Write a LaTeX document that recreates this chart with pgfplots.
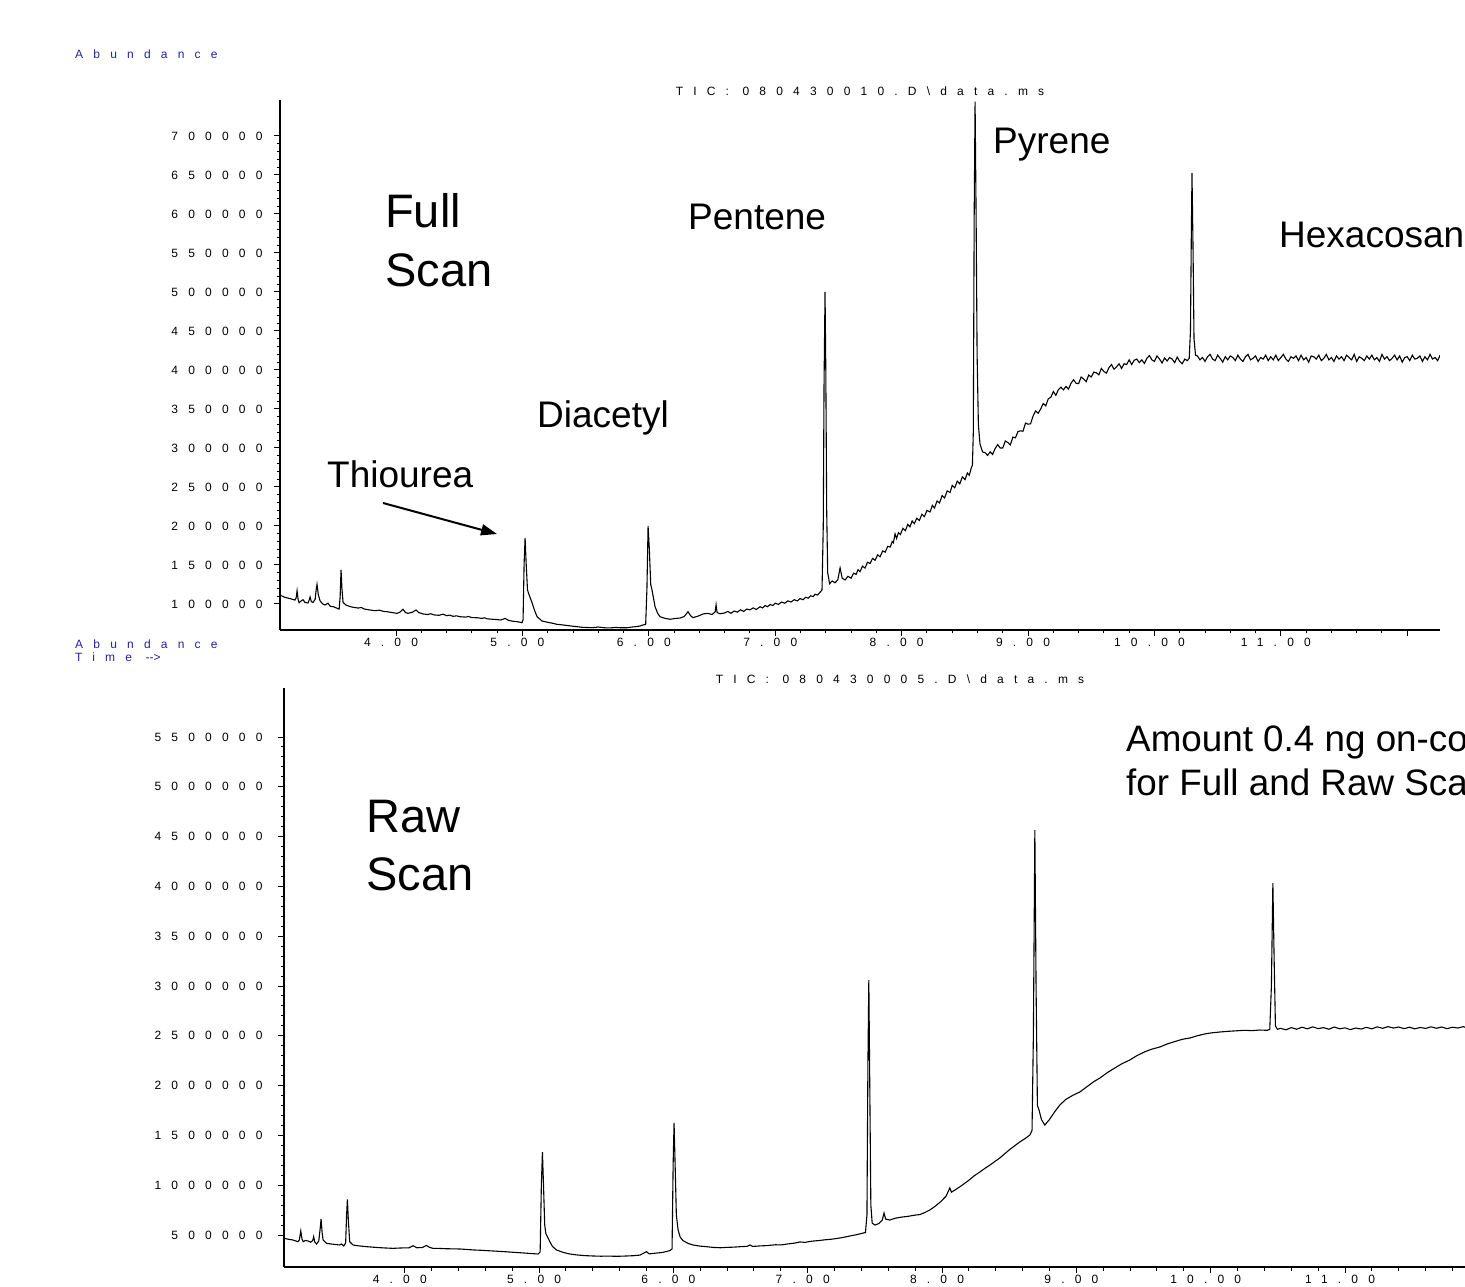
\documentclass[border=0pt]{standalone}
\usepackage{pgfplots}
\pgfplotsset{compat=1.18}
\usepackage{fontspec}
\setmainfont{Liberation Sans}
\newfontfamily\spacedfont[LetterSpace=85]{Liberation Sans}
\usetikzlibrary{arrows.meta}
\definecolor{hpblue}{RGB}{35,35,155}
\newcommand{\tickfont}{\spacedfont\fontsize{12}{14}\selectfont}
\newcommand{\bigfont}{\fontsize{47}{56}\selectfont}
\newcommand{\midfont}{\fontsize{37}{44}\selectfont}
\newcommand{\amtfont}{\fontsize{36.8}{44}\selectfont}

\pgfplotstableread{
t v
3.082 111500
3.120 108500
3.160 107000
3.200 105000
3.210 108000
3.217 117000
3.225 106000
3.233 101700
3.250 104000
3.264 105500
3.280 102000
3.304 101300
3.315 106000
3.320 109000
3.330 103000
3.343 102000
3.360 106000
3.368 118000
3.375 125200
3.385 112000
3.399 104000
3.420 100000
3.438 98700
3.462 101000
3.480 97000
3.502 96600
3.520 95500
3.541 94000
3.550 93500
3.558 110000
3.565 143600
3.572 120000
3.581 102000
3.604 98700
3.630 97000
3.660 95800
3.700 94800
3.725 95500
3.750 93500
3.794 92300
3.830 91500
3.870 92000
3.900 90500
3.929 90100
3.970 89000
4.008 88000
4.030 89500
4.055 93200
4.075 89000
4.095 88000
4.130 89500
4.158 92300
4.180 89000
4.214 87200
4.250 86500
4.275 87500
4.300 86000
4.340 85500
4.372 87000
4.400 85000
4.425 85800
4.450 84200
4.480 84800
4.506 83700
4.550 83200
4.575 84000
4.600 82500
4.641 82400
4.680 81500
4.700 82300
4.720 81000
4.767 80400
4.800 80000
4.830 79500
4.862 81500
4.890 79000
4.920 78000
4.957 77300
4.985 76500
4.997 76000
5.005 80000
5.013 150000
5.021 184600
5.030 150000
5.040 118000
5.050 113000
5.076 101700
5.100 90000
5.116 83700
5.155 78200
5.200 76500
5.242 75200
5.270 74000
5.300 73500
5.350 72500
5.400 71500
5.432 70900
5.480 70000
5.530 69800
5.559 69600
5.600 70500
5.650 69500
5.693 69300
5.740 70000
5.780 69500
5.828 69600
5.870 70500
5.900 71000
5.930 71800
5.954 73100
5.975 74000
5.985 120000
5.994 200000
6.004 170000
6.015 125000
6.025 118000
6.049 96600
6.070 88000
6.089 83700
6.130 81500
6.168 80400
6.210 81500
6.247 82000
6.280 84000
6.310 90100
6.330 85000
6.350 82500
6.390 84500
6.429 87200
6.468 88000
6.500 86500
6.525 90000
6.532 99000
6.540 89000
6.563 87500
6.600 88500
6.625 90500
6.650 88000
6.675 91000
6.700 89500
6.725 92500
6.750 90500
6.775 93500
6.800 92500
6.825 95000
6.850 93000
6.880 96500
6.900 95000
6.920 98000
6.940 96500
6.960 99500
6.980 98000
7.000 101000
7.025 99500
7.050 102500
7.075 101000
7.100 104000
7.125 102500
7.150 105500
7.175 104000
7.196 107000
7.220 105500
7.240 108500
7.260 107500
7.280 110500
7.300 109500
7.315 112500
7.335 111500
7.354 115000
7.370 118000
7.380 200000
7.386 380000
7.394 500000
7.400 400000
7.407 220000
7.415 140000
7.430 126000
7.450 129500
7.473 127200
7.495 131000
7.513 146200
7.530 133000
7.553 130800
7.575 135500
7.600 133000
7.620 139500
7.640 138000
7.655 144000
7.671 141500
7.690 148500
7.710 146000
7.730 153500
7.750 152000
7.770 158500
7.790 156000
7.810 163000
7.829 160500
7.850 168000
7.870 166500
7.890 174000
7.910 173000
7.925 180000
7.935 178500
7.948 190000
7.960 184000
7.975 191500
7.990 189000
8.010 197000
8.030 194000
8.048 202000
8.066 199000
8.083 206500
8.100 203000
8.120 210000
8.140 207000
8.160 215000
8.180 212000
8.200 220000
8.225 218000
8.243 226500
8.260 223000
8.280 232000
8.300 229500
8.320 239000
8.340 236000
8.360 245000
8.383 243000
8.400 252000
8.420 249000
8.440 257500
8.460 254000
8.480 263000
8.502 259500
8.520 268000
8.535 265000
8.550 274000
8.560 278000
8.567 320000
8.574 600000
8.581 744000
8.589 600000
8.597 420000
8.607 330000
8.620 305000
8.640 295000
8.660 294000
8.680 290500
8.700 295000
8.720 291800
8.740 299500
8.760 304300
8.780 300000
8.800 300000
8.820 309000
8.840 307000
8.860 304000
8.880 314000
8.900 313000
8.920 321000
8.940 322000
8.960 321500
8.980 332000
9.000 330500
9.020 331000
9.040 341000
9.060 347500
9.080 344500
9.100 350000
9.120 357000
9.140 354000
9.160 363000
9.180 365000
9.200 372300
9.220 367500
9.240 374800
9.260 378000
9.280 374500
9.300 379000
9.320 375500
9.340 383000
9.360 387500
9.380 383000
9.400 382500
9.420 391000
9.440 388500
9.460 385000
9.480 393500
9.500 391000
9.520 397300
9.540 396500
9.560 393800
9.580 402000
9.600 398000
9.620 396000
9.640 403000
9.660 407000
9.680 401000
9.700 404000
9.720 408000
9.740 402000
9.760 408000
9.780 407000
9.800 413000
9.820 407000
9.840 412500
9.860 414000
9.880 409500
9.900 413000
9.920 408500
9.940 415000
9.960 418500
9.980 413000
10.000 411000
10.020 418000
10.040 414000
10.060 409000
10.080 415500
10.100 411500
10.120 416000
10.140 414000
10.160 409500
10.180 416500
10.200 411000
10.220 408000
10.240 414000
10.260 412000
10.275 415000
10.285 450000
10.291 560000
10.297 652500
10.305 560000
10.313 440000
10.325 419000
10.340 418000
10.360 413000
10.380 416000
10.400 411000
10.420 417000
10.440 420000
10.460 414000
10.480 412000
10.500 419000
10.520 415000
10.540 410000
10.560 417000
10.580 413000
10.600 418000
10.620 416000
10.640 412000
10.660 419000
10.680 414000
10.700 411000
10.720 417000
10.740 420000
10.760 413000
10.780 415000
10.800 418000
10.820 411000
10.840 416000
10.860 414000
10.880 419000
10.900 412000
10.920 417000
10.940 413000
10.960 419000
10.980 412000
11.000 416000
11.020 420000
11.040 414000
11.060 411000
11.080 417000
11.100 415000
11.120 418000
11.140 412000
11.160 419000
11.180 413000
11.200 416000
11.220 410000
11.240 418000
11.260 417000
11.280 414000
11.300 419000
11.320 412000
11.340 415000
11.360 420000
11.380 413000
11.400 416000
11.420 411000
11.440 418000
11.460 414000
11.480 417000
11.500 412000
11.520 419000
11.540 416000
11.560 413000
11.580 420000
11.600 411000
11.620 417000
11.640 415000
11.660 412000
11.680 418000
11.700 414000
11.720 419000
11.740 413000
11.760 416000
11.780 411000
11.800 420000
11.820 414000
11.840 417000
11.860 412000
11.880 415000
11.900 419000
11.920 413000
11.940 418000
11.960 410000
11.980 416000
12.000 417000
12.020 412000
12.040 419000
12.060 414000
12.080 415000
12.100 418000
12.120 411000
12.140 417000
12.160 413000
12.180 420000
12.200 414000
12.220 416000
12.240 412000
12.260 419000
}\fullscan

\pgfplotstableread{
t v
3.101 466900
3.130 458000
3.168 449800
3.205 432700
3.215 450000
3.226 540000
3.235 460000
3.243 432700
3.260 445000
3.280 440000
3.300 428000
3.315 445000
3.322 483000
3.330 430000
3.343 409600
3.360 440000
3.370 560000
3.377 660600
3.385 520000
3.392 450000
3.417 416700
3.450 410000
3.480 405000
3.516 399600
3.530 410000
3.546 389600
3.560 420000
3.567 700000
3.573 858400
3.580 650000
3.590 432700
3.615 399600
3.650 392000
3.715 382800
3.760 378000
3.800 374000
3.850 370000
3.913 366000
3.960 369000
4.000 371000
4.030 370000
4.062 392400
4.090 372000
4.130 374000
4.162 395000
4.185 375000
4.211 366000
4.260 365000
4.310 362000
4.360 361000
4.410 359400
4.460 355000
4.510 350000
4.560 347000
4.610 343000
4.658 339400
4.700 336000
4.750 332000
4.800 327000
4.856 322300
4.900 318000
4.950 313000
4.993 309200
5.008 330000
5.017 1000000
5.025 1333000
5.033 1000000
5.042 600000
5.050 517000
5.080 432700
5.100 385000
5.130 349400
5.180 325000
5.229 309200
5.280 300000
5.340 293000
5.402 289200
5.460 287000
5.520 288000
5.580 286000
5.651 289200
5.700 292000
5.750 298000
5.800 332300
5.820 310000
5.870 318000
5.920 325000
5.973 342700
5.990 360000
5.998 1200000
6.005 1624500
6.013 1200000
6.022 700000
6.035 550200
6.050 480000
6.072 443000
6.110 415000
6.147 399600
6.200 388000
6.246 382800
6.300 375000
6.350 372000
6.400 376000
6.450 378000
6.500 383000
6.550 386000
6.570 400000
6.590 385000
6.640 390000
6.700 394000
6.760 402000
6.800 400000
6.850 410000
6.900 418000
6.941 430000
6.980 426000
7.030 438000
7.080 444000
7.130 452000
7.180 458000
7.239 470000
7.280 480000
7.320 492000
7.360 502000
7.400 515000
7.430 525000
7.441 700000
7.448 2200000
7.455 3060000
7.462 2000000
7.470 800000
7.480 620000
7.500 600000
7.530 615000
7.555 650000
7.568 721000
7.580 660000
7.611 650000
7.650 668000
7.700 680000
7.750 688000
7.800 700000
7.835 705000
7.870 725000
7.910 752000
7.950 790000
7.990 835000
8.030 890000
8.045 935000
8.058 972000
8.070 930000
8.100 955000
8.150 1000000
8.200 1050000
8.240 1095000
8.281 1132000
8.320 1170000
8.360 1205000
8.400 1245000
8.430 1273000
8.470 1320000
8.510 1365000
8.550 1405000
8.579 1434000
8.620 1470000
8.654 1504000
8.670 1550000
8.680 2500000
8.691 4566000
8.700 3000000
8.710 1800000
8.722 1755000
8.740 1660000
8.765 1604000
8.800 1660000
8.840 1740000
8.877 1805000
8.920 1860000
8.970 1900000
9.026 1936000
9.080 1990000
9.130 2040000
9.175 2076000
9.230 2130000
9.290 2180000
9.340 2220000
9.398 2257000
9.450 2300000
9.510 2340000
9.560 2365000
9.622 2388000
9.680 2420000
9.740 2445000
9.790 2465000
9.845 2478000
9.900 2500000
9.960 2520000
10.010 2530000
10.068 2538000
10.130 2545000
10.190 2550000
10.250 2555000
10.310 2552000
10.366 2558000
10.420 2555000
10.440 2565000
10.452 3000000
10.463 4034000
10.472 3300000
10.482 2600000
10.497 2565000
10.520 2575000
10.560 2560000
10.600 2582000
10.640 2566000
10.680 2586000
10.720 2570000
10.760 2590000
10.800 2572000
10.840 2582000
10.880 2566000
10.920 2588000
10.960 2570000
11.000 2580000
11.040 2562000
11.080 2578000
11.120 2568000
11.160 2585000
11.200 2570000
11.240 2590000
11.280 2575000
11.320 2592000
11.360 2578000
11.400 2588000
11.440 2572000
11.480 2586000
11.520 2570000
11.560 2584000
11.600 2574000
11.640 2590000
11.680 2576000
11.720 2588000
11.760 2572000
11.800 2586000
11.840 2578000
11.880 2592000
11.920 2574000
11.960 2588000
12.000 2576000
12.040 2590000
12.080 2578000
12.120 2586000
12.160 2574000
12.200 2588000
12.240 2578000
12.280 2585000
}\rawscan

\begin{document}
\begin{tikzpicture}
\pgfplotsset{
  hpaxis/.style={
    scale only axis, anchor=south west,
    axis x line=bottom, axis y line=left,
    axis line style={-, line width=1.2pt},
    tick align=outside, major tick length=6pt, minor tick length=3.5pt,
    tick style={line width=1pt, black},
    minor x tick num=4, minor y tick num=4,
    xtick={4,5,6,7,8,9,10,11,12},
    xticklabels={4.00,5.00,6.00,7.00,8.00,9.00,10.00,11.00,{}},
    scaled y ticks=false,
    /pgf/number format/assume math mode=true,
    xticklabel style={font=\tickfont, xshift=-5pt, yshift=1pt},
    clip=true,
  }
}
% Top panel: Full Scan
\begin{axis}[hpaxis, at={(280pt,656pt)}, width=1160pt, height=530pt,
  xmin=3.082, xmax=12.259, ymin=66670, ymax=746150,
  yticklabel style={font=\tickfont, xshift=-8pt, /pgf/number format/fixed, /pgf/number format/1000 sep={}},
  ytick={100000,150000,200000,250000,300000,350000,400000,450000,500000,550000,600000,650000,700000}]
\addplot[black, line width=1.1pt] table[x=t, y=v] {\fullscan};
\draw[line width=2pt, -{Triangle[length=16pt,width=11pt]}] (axis cs:3.897,229500) -- (axis cs:4.799,189700);
\end{axis}
% Bottom panel: Raw Scan
\begin{axis}[hpaxis, at={(284pt,19pt)}, width=1232pt, height=579pt,
  xmin=3.101, xmax=12.273, ymin=178700, ymax=5992000,
  yticklabel style={font=\tickfont, xshift=-12pt, /pgf/number format/fixed, /pgf/number format/1000 sep={}},
  ytick={500000,1000000,1500000,2000000,2500000,3000000,3500000,4000000,4500000,5000000,5500000}]
\addplot[black, line width=1.1pt] table[x=t, y=v] {\rawscan};
\end{axis}

% header texts
\node[anchor=base west, inner sep=0pt, text=hpblue, font=\tickfont] at (75pt,1227pt) {Abundance};
\node[anchor=base west, inner sep=0pt, text=hpblue, font=\tickfont] at (75pt,637pt) {Abundance};
\node[anchor=base west, inner sep=0pt, text=hpblue, font=\tickfont] at (75pt,624pt) {Time -\kern0pt-\kern0pt>};
\node[anchor=base, inner sep=0pt, font=\tickfont] at (860pt,1190pt) {TIC: 080430010.D\textbackslash data.ms};
\node[anchor=base, inner sep=0pt, font=\tickfont] at (900pt,602pt) {TIC: 080430005.D\textbackslash data.ms};

% annotations top
\node[anchor=base west, inner sep=0pt, font=\bigfont] at (385pt,1058pt) {Full};
\node[anchor=base west, inner sep=0pt, font=\bigfont] at (385pt,999pt) {Scan};
\node[anchor=base west, inner sep=0pt, font=\midfont] at (688pt,1056pt) {Pentene};
\node[anchor=base west, inner sep=0pt, font=\midfont] at (993pt,1132pt) {Pyrene};
\node[anchor=base west, inner sep=0pt, font=\midfont] at (1279pt,1038pt) {Hexacosan};
\node[anchor=base west, inner sep=0pt, font=\midfont] at (537pt,858pt) {Diacetyl};
\node[anchor=base west, inner sep=0pt, font=\midfont] at (327pt,798pt) {Thiourea};
% annotations bottom
\node[anchor=base west, inner sep=0pt, font=\bigfont] at (366pt,453pt) {Raw};
\node[anchor=base west, inner sep=0pt, font=\bigfont] at (366pt,395pt) {Scan};
\node[anchor=base west, inner sep=0pt, font=\amtfont] at (1126pt,534pt) {Amount 0.4 ng on-co};
\node[anchor=base west, inner sep=0pt, font=\amtfont] at (1126pt,490pt) {for Full and Raw Sca};

\pgfresetboundingbox
\path[use as bounding box] (0pt,0pt) rectangle (1465pt,1286pt);
\end{tikzpicture}
\end{document}
